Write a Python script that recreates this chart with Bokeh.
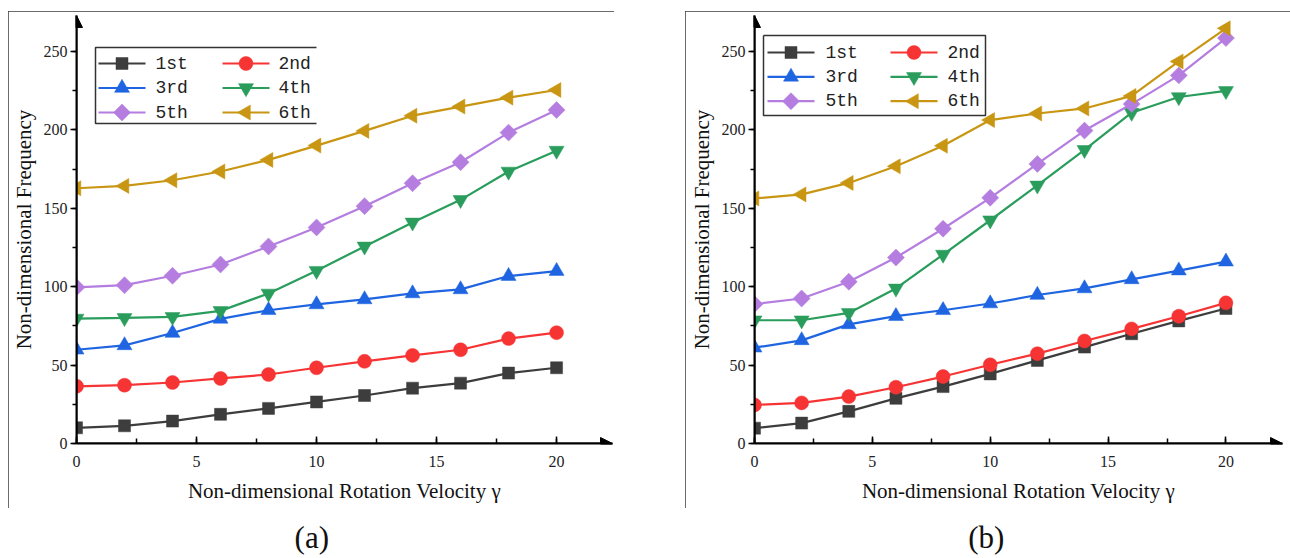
import numpy as np
from bokeh.plotting import figure
from bokeh.models import (Range1d, SingleIntervalTicker, Arrow, NormalHead, Label)
from bokeh.layouts import row, column
from bokeh.embed import file_html
from bokeh.resources import INLINE
from bokeh.core.properties import value

# ---------------- data ----------------
gamma = [0, 2, 4, 6, 8, 10, 12, 14, 16, 18, 20]
mode_labels = ["1st", "2nd", "3rd", "4th", "5th", "6th"]

# panel (a)
a_1st = [10.0, 11.3, 14.3, 18.6, 22.4, 26.5, 30.6, 35.3, 38.5, 44.9, 48.3]
a_2nd = [36.5, 37.2, 38.9, 41.5, 44.0, 48.3, 52.4, 56.2, 59.8, 66.9, 70.7]
a_3rd = [59.8, 62.6, 70.5, 79.5, 85.0, 88.7, 91.9, 95.7, 98.3, 106.8, 110.0]
a_4th = [79.7, 80.1, 80.8, 84.6, 95.7, 110.2, 125.7, 141.0, 155.4, 173.5, 186.8]
a_5th = [99.6, 101.0, 107.0, 114.2, 125.7, 137.8, 151.4, 166.0, 179.4, 198.3, 212.7]
a_6th = [162.8, 164.3, 167.9, 173.5, 180.9, 190.0, 199.4, 209.1, 214.9, 220.6, 225.5]

# panel (b)
b_1st = [9.8, 13.0, 20.5, 28.8, 36.3, 44.4, 53.0, 61.5, 70.0, 78.2, 86.1]
b_2nd = [24.6, 25.9, 29.9, 35.9, 42.7, 50.2, 57.3, 65.4, 73.1, 81.2, 89.7]
b_3rd = [61.1, 65.8, 76.0, 81.2, 85.0, 89.3, 94.7, 98.9, 104.7, 110.3, 116.0]
b_4th = [78.6, 78.6, 83.3, 98.9, 120.5, 142.4, 164.6, 187.3, 211.0, 221.0, 224.9]
b_5th = [88.9, 92.5, 103.2, 118.6, 137.0, 156.7, 178.3, 199.6, 216.5, 234.8, 258.6]
b_6th = [156.3, 158.9, 166.2, 176.8, 189.9, 206.3, 210.5, 213.7, 221.7, 243.7, 264.8]

x_title = "Non-dimensional Rotation Velocity \u03b3"
y_title = "Non-dimensional Frequency"

# ---------------- styles ----------------
colors = ["#3d3d3d", "#f73434", "#1f64e0", "#2a9d5c", "#b47ddf", "#c99613"]
markers = ["square", "circle", "triangle", "inverted_triangle", "square", "triangle"]
msizes = [12, 14, 15, 15, 12, 15]
angles = [0, 0, 0, 0, np.pi / 4, np.pi / 2]
SERIF = "Liberation Serif"
MONO = "Liberation Mono"


def draw_legend(p, box, rows_y, col_glyph, col_text, open_right):
    """Legend drawn in frame-pixel space (extra ranges 'px')."""
    l, r, b, t = box
    kw = dict(x_range_name="px", y_range_name="px")
    p.quad(left=[l], right=[r], bottom=[b], top=[t], fill_color="white",
           line_color=None, **kw)
    if open_right:
        p.multi_line(xs=[[r, l, l, r]], ys=[[t, t, b, b]], line_color="#333333",
                     line_width=1.5, **kw)
    else:
        p.multi_line(xs=[[l, r, r, l, l]], ys=[[t, t, b, b, t]], line_color="#333333",
                     line_width=1.5, **kw)
    for i in range(6):
        rr, cc = divmod(i, 2)
        y = rows_y[rr]
        g0, g1 = col_glyph[cc]
        p.line([g0, g1], [y, y], line_color=colors[i], line_width=2.2, **kw)
        p.scatter([(g0 + g1) / 2], [y], marker=markers[i], size=msizes[i],
                  angle=angles[i], fill_color=colors[i], line_color=colors[i],
                  line_width=0.5, **kw)
        p.text([col_text[cc]], [y], text=[mode_labels[i]], text_baseline="middle",
               text_align="left", text_font=value(MONO), text_font_size="18px",
               text_color="#222222", **kw)


def make_panel(series, width, x_end, border_left, border_right, frame_w, leg):
    p = figure(width=width, height=497, output_backend="svg", toolbar_location=None,
               x_range=Range1d(0, x_end), y_range=Range1d(0, 273),
               min_border_left=border_left, min_border_right=border_right,
               min_border_top=4, min_border_bottom=65)
    p.extra_x_ranges = {"px": Range1d(0, frame_w)}
    p.extra_y_ranges = {"px": Range1d(0, 428)}
    p.outline_line_color = None
    p.grid.visible = False
    p.background_fill_color = "white"
    p.border_fill_color = "white"
    p.styles = {"outline": "1.5px solid #3a3a3a", "outline-offset": "-1.5px"}

    xa = p.xaxis[0]
    xa.ticker = SingleIntervalTicker(interval=5, num_minor_ticks=2)
    xa.major_tick_in = 7
    xa.major_tick_out = 0
    xa.minor_tick_in = 5
    xa.minor_tick_out = 0
    xa.major_label_standoff = 12
    xa.axis_label = x_title
    xa.axis_label_standoff = 9

    ya = p.yaxis[0]
    ya.ticker = SingleIntervalTicker(interval=50, num_minor_ticks=2)
    ya.major_tick_in = 0
    ya.major_tick_out = 6
    ya.minor_tick_in = 0
    ya.minor_tick_out = 4
    ya.major_label_standoff = 3
    ya.axis_label = y_title
    ya.axis_label_standoff = 5

    for ax in (xa, ya):
        ax.axis_line_width = 2
        ax.axis_line_color = "black"
        ax.major_tick_line_width = 1.5
        ax.minor_tick_line_width = 1.5
        ax.major_tick_line_color = "black"
        ax.minor_tick_line_color = "black"
        ax.major_label_text_font = SERIF
        ax.major_label_text_font_size = "16px"
        ax.major_label_text_color = "#222222"
        ax.axis_label_text_font = SERIF
        ax.axis_label_text_font_size = "21px"
        ax.axis_label_text_font_style = "normal"
        ax.axis_label_text_color = "#111111"

    for i, ys in enumerate(series):
        p.line(gamma, ys, line_color=colors[i], line_width=2.2)
        p.scatter(gamma, ys, marker=markers[i], size=msizes[i], angle=angles[i],
                  fill_color=colors[i], line_color=colors[i], line_width=0.5)

    # axis arrows
    p.add_layout(Arrow(end=NormalHead(size=12, fill_color="black", line_color="black"),
                       x_start=0, y_start=0, x_end=x_end, y_end=0,
                       line_color="black", line_width=2))
    p.add_layout(Arrow(end=NormalHead(size=12, fill_color="black", line_color="black"),
                       x_start=0, y_start=0, x_end=0, y_end=273,
                       line_color="black", line_width=2))

    draw_legend(p, **leg)
    return p


def make_caption(text, width):
    c = figure(width=width, height=50, output_backend="svg", toolbar_location=None,
               x_range=Range1d(0, 1), y_range=Range1d(0, 1),
               x_axis_type=None, y_axis_type=None, min_border=0)
    c.outline_line_color = None
    c.grid.visible = False
    c.add_layout(Label(x=0.439, y=0.42, text=text, text_align="center",
                       text_baseline="middle", text_font=SERIF,
                       text_font_size="31px", text_color="#111111"))
    return c


leg_a = dict(box=(19, 240, 320, 396), rows_y=(380, 355.5, 331),
             col_glyph=((22, 69), (146, 193)), col_text=(79, 202), open_right=True)
leg_b = dict(box=(9, 231, 328, 408), rows_y=(391, 366.7, 342.3),
             col_glyph=((13, 60), (136, 183)), col_text=(71, 193), open_right=False)

p1 = make_panel([a_1st, a_2nd, a_3rd, a_4th, a_5th, a_6th], 606, 22.33, 68, 2, 536, leg_a)
p2 = make_panel([b_1st, b_2nd, b_3rd, b_4th, b_5th, b_6th], 605, 22.4, 69, 8, 528, leg_b)
c1 = make_caption("(a)", 606)
c2 = make_caption("(b)", 605)

layout = row(column(p1, c1, margin=(11, 0, 0, 8)),
             column(p2, c2, margin=(11, 0, 0, 71)))

open("out.html", "w").write(file_html(layout, INLINE))
